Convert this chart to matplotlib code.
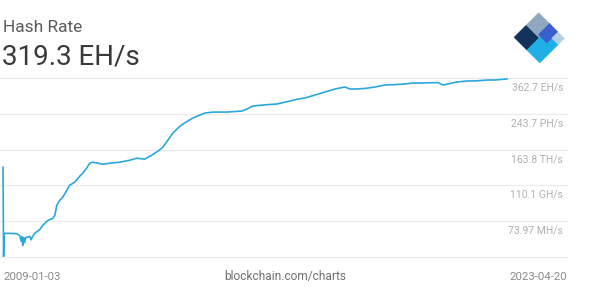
import matplotlib
matplotlib.use('Agg')
import matplotlib.pyplot as plt
import matplotlib.dates as mdates
import numpy as np
from matplotlib.patches import Polygon

plt.rcParams['font.family'] = ['Roboto', 'DejaVu Sans']

# ---------------- data ----------------
dates = [
    '2009-01-03', '2009-01-09', '2009-01-15', '2009-03-14', '2009-05-25', '2009-06-24',
    '2009-07-10', '2009-07-20', '2009-07-26', '2009-08-05', '2009-08-15', '2009-08-25',
    '2009-10-08', '2009-10-20', '2009-11-07', '2009-11-28', '2010-01-19', '2010-02-18',
    '2010-04-13', '2010-06-03', '2010-06-24', '2010-07-14', '2010-08-14', '2010-09-13',
    '2010-10-26', '2010-11-24', '2011-01-15', '2011-03-08', '2011-04-09', '2011-05-19',
    '2011-06-20', '2011-07-20', '2011-09-12', '2011-11-03', '2012-01-14', '2012-04-27',
    '2012-08-09', '2012-10-21', '2013-01-10', '2013-03-24', '2013-05-26', '2013-07-17',
    '2013-09-07', '2013-10-27', '2013-12-20', '2014-02-09', '2014-04-01', '2014-05-22',
    '2014-08-03', '2014-09-24', '2014-12-16', '2015-05-10', '2015-10-13', '2015-12-03',
    '2016-02-03', '2016-05-18', '2016-10-09', '2017-02-21', '2017-05-15', '2017-07-27',
    '2017-11-07', '2018-02-20', '2018-06-03', '2018-09-14', '2018-11-05', '2018-12-27',
    '2019-04-09', '2019-07-21', '2019-11-01', '2020-02-13', '2020-05-26', '2020-08-17',
    '2020-10-29', '2021-02-12', '2021-05-05', '2021-06-25', '2021-08-16', '2021-11-18',
    '2022-03-02', '2022-06-14', '2022-09-25', '2022-12-16', '2023-04-20',
]
hash_rate = [  # H/s
    4.5e12, 5.2e4, 5.9e6, 5.9e6, 5.5e6, 3.9e6,
    1.2e6, 3.0e6, 0.5e6, 2.5e6, 0.9e6, 2.4e6,
    3.2e6, 1.6e6, 3.2e6, 5.9e6, 13e6, 30e6,
    85e6, 128e6, 238e6, 1.85e9, 5.2e9, 9.5e9,
    40e9, 112e9, 208e9, 710e9, 1.32e12, 3.67e12,
    10.2e12, 12.6e12, 10.2e12, 8.3e12, 10.2e12, 12.6e12,
    19e12, 28.6e12, 23.5e12, 53e12, 120e12, 273e12,
    1.15e15, 4.8e15, 13.5e15, 30.8e15, 57e15, 105e15,
    195e15, 293e15, 360e15, 360e15, 443e15, 667e15,
    1.24e18, 1.52e18, 1.87e18, 3.45e18, 5.2e18, 6.4e18,
    11.8e18, 21.9e18, 40.5e18, 61e18, 40.5e18, 40.5e18,
    45e18, 61e18, 91.7e18, 100e18, 113e18, 138e18,
    138e18, 145e18, 150e18, 91.7e18, 113e18, 170e18,
    209e18, 215e18, 256e18, 256e18, 319.3e18,
]
tick_values = [49.7e3, 73.97e6, 110.1e9, 163.8e12, 243.7e15, 362.7e18]
tick_labels = ['', '73.97 MH/s', '110.1 GH/s', '163.8 TH/s', '243.7 PH/s', '362.7 EH/s']
title = 'Hash Rate'
current_value = '319.3 EH/s'
start_label = '2009-01-03'
end_label = '2023-04-20'
source_label = 'blockchain.com/charts'

# ---------------- layout ----------------
W, H = 592, 291
fig = plt.figure(figsize=(W / 100, H / 100), dpi=100)
fig.patch.set_facecolor('white')

ax_left, ax_right = 0, 567
ax_top, ax_bottom = 70, 256.7
grid_top = 78.3
ax = fig.add_axes([ax_left / W, (H - ax_bottom) / H,
                   (ax_right - ax_left) / W, (ax_bottom - ax_top) / H])
ax.set_yscale('log')

x = mdates.datestr2num(dates)
d0 = mdates.datestr2num(start_label)
d1 = mdates.datestr2num(end_label)
dpp = (d1 - d0) / 504.0
ax.set_xlim(d0 - 3 * dpp, d0 + 564 * dpp)
dec_per_px = np.log10(tick_values[-1] / tick_values[0]) / (ax_bottom - grid_top)
ax.set_ylim(tick_values[0], tick_values[-1] * 10 ** (dec_per_px * (grid_top - ax_top)))

for t in tick_values:
    ax.axhline(t, color='#ebebeb', lw=0.9, zorder=0, clip_on=False)

ax.plot(x, hash_rate, color='#2ba7dd', lw=1.2, zorder=2, solid_joinstyle='round')

for s in ax.spines.values():
    s.set_visible(False)
ax.set_xticks([])
ax.set_yticks([])
ax.yaxis.set_minor_locator(matplotlib.ticker.NullLocator())
ax.patch.set_alpha(0)

for t, lbl in zip(tick_values, tick_labels):
    if lbl:
        ax.annotate(lbl, xy=(563 / 567, t), xycoords=('axes fraction', 'data'),
                    xytext=(0, -9.4 * 0.72), textcoords='offset points',
                    ha='right', va='center', fontsize=7.5, color='#b0b0b0')

# ---------------- texts ----------------
fig.text(3 / W, 1 - 32.3 / H, title, ha='left', va='baseline',
         fontsize=12.5, color='#5c5c5c')
fig.text(2 / W, 1 - 65 / H, current_value, ha='left', va='baseline',
         fontsize=20, color='#3a3a3a')
fig.text(3 / W, 1 - 276.7 / H, start_label, ha='left', va='center',
         fontsize=8.2, color='#8a8a8a')
fig.text(567 / W, 1 - 276.7 / H, end_label, ha='right', va='center',
         fontsize=8.2, color='#8a8a8a')
fig.text(285 / W, 1 - 276.7 / H, source_label, ha='center', va='center',
         fontsize=8.6, color='#6e6e6e')

# ---------------- logo ----------------
lax = fig.add_axes([0, 0, 1, 1])
lax.set_xlim(0, W)
lax.set_ylim(H, 0)
lax.axis('off')
lax.patch.set_alpha(0)
L = np.array([514.0, 37.3])
T = np.array([538.7, 12.7])
B = np.array([539.7, 63.0])


def quad(a0, a1, b0, b1):
    pts = []
    for a, b in [(a0, b0), (a1, b0), (a1, b1), (a0, b1)]:
        pts.append(L + a * (T - L) + b * (B - L))
    return np.array(pts)


logo_parts = [
    ((0.0, 0.5, 0.0, 0.5), '#12325c'),
    ((0.5, 1.0, 0.0, 0.5), '#8fa8bf'),
    ((0.0, 0.75, 0.5, 1.0), '#1fb0e6'),
    ((0.55, 1.0, 0.42, 0.75), '#3a5ecd'),
    ((0.75, 1.0, 0.75, 1.0), '#b3cfe6'),
]
for (a0, a1, b0, b1), c in logo_parts:
    lax.add_patch(Polygon(quad(a0, a1, b0, b1), closed=True, facecolor=c,
                          edgecolor=c, lw=0.3))

fig.savefig('out.png', dpi=100, facecolor='white')
